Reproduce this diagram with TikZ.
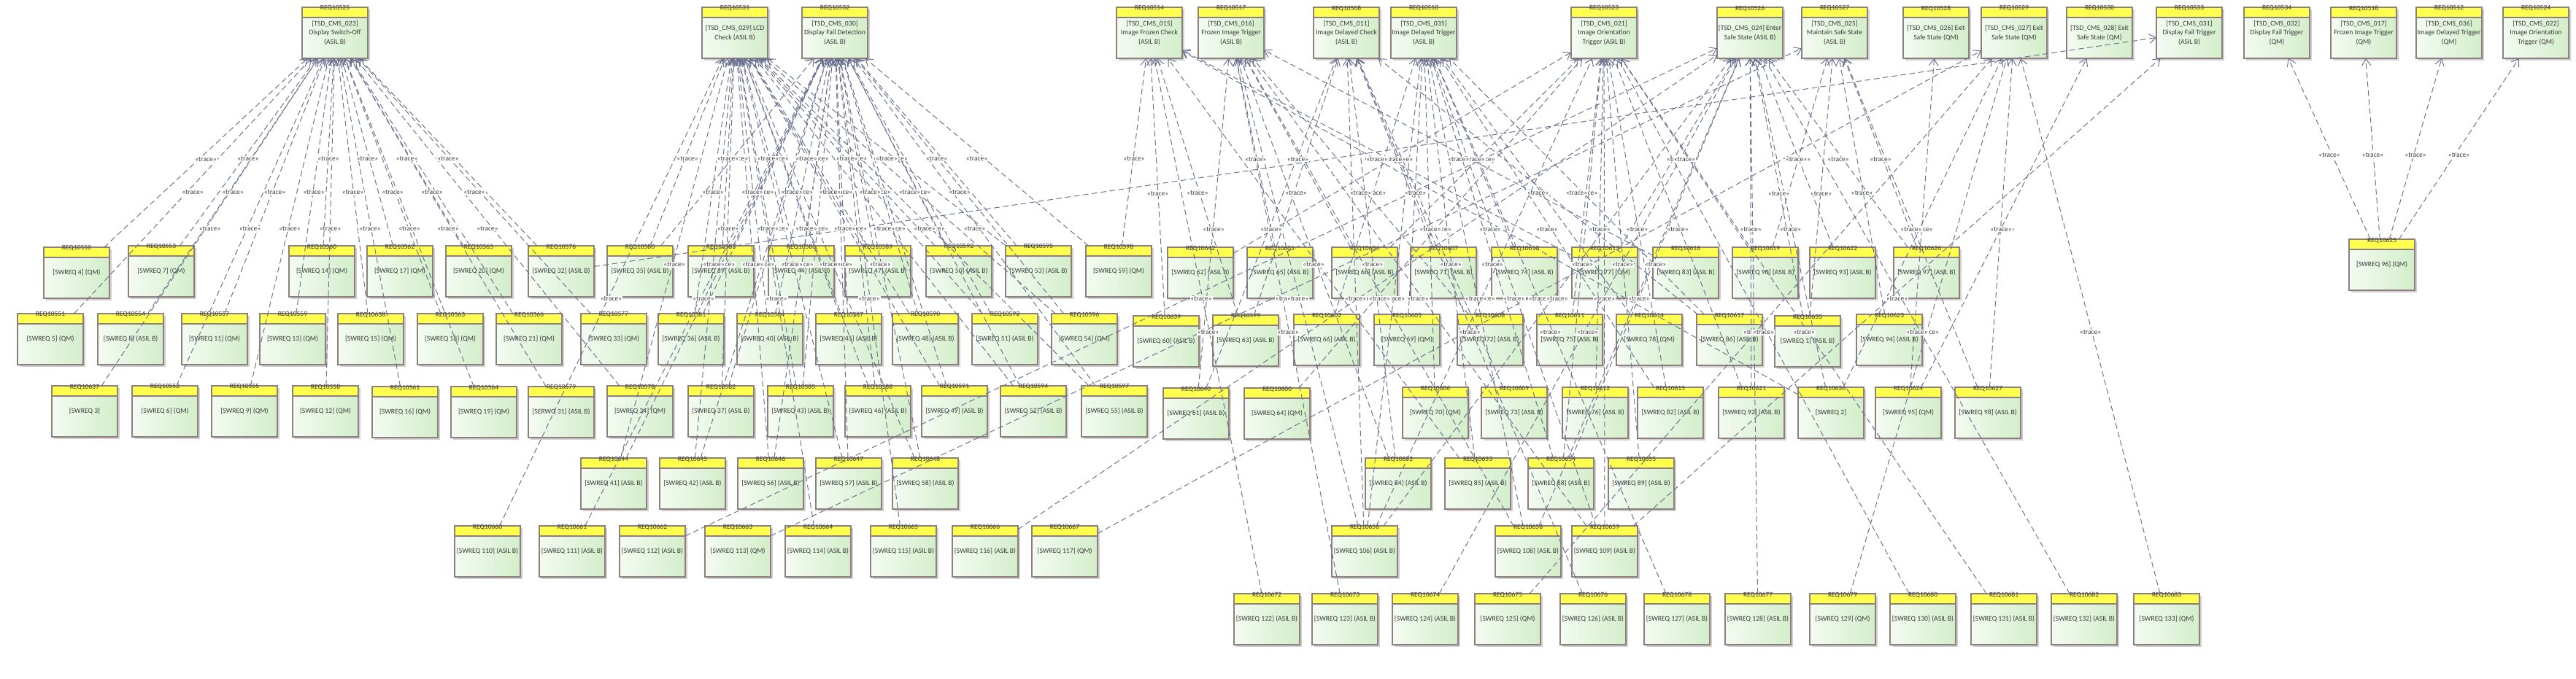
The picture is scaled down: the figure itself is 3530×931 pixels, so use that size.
\documentclass[tikz,border=0pt]{standalone}
\usepackage{fontspec}
\setmainfont{Carlito}
\usetikzlibrary{arrows.meta}
\definecolor{hdr}{HTML}{FFFF4D}
\definecolor{bodyL}{HTML}{F4FBF2}
\definecolor{bodyR}{HTML}{D3EECA}
\definecolor{bord}{HTML}{8E7E7E}
\definecolor{edgec}{HTML}{6A7190}
\definecolor{txt}{HTML}{3A3A3A}
\definecolor{shad}{HTML}{D0D0D0}
\tikzset{
  reqbox/.style={rectangle, minimum width=0.9cm, minimum height=0.7cm, inner sep=0pt, outer sep=0pt, left color=bodyL, right color=bodyR, anchor=north west},
  tracee/.style={draw=edgec, line width=0.28pt, dash pattern=on 2.2pt off 1.3pt, -{Straight Barb[length=2.6pt,width=3.6pt]}},
  tlabel/.style={fill=white, inner sep=0.25pt, font=\fontsize{2.7}{3}\selectfont, text=txt, midway, yshift=-0.09cm},
  bodytext/.style={align=center, font=\fontsize{2.75}{3.6}\selectfont, text=txt, inner sep=0pt},
  idtext/.style={font=\fontsize{2.7}{3}\selectfont, text=txt, inner sep=0pt},
}
\newcommand{\reqnode}[5]{%
  \fill[shad] ({#2+3},{#3+3}) rectangle ({#2+93},{#3+73});
  \node[reqbox] (#1) at (#2,#3) {};
  \fill[hdr] (#1.north west) rectangle ([yshift=-0.14cm]#1.north east);
  \draw[bord, line width=0.35pt] (#1.north west) rectangle (#1.south east);
  \draw[bord, line width=0.35pt] ([yshift=-0.14cm]#1.north west) -- ([yshift=-0.14cm]#1.north east);
  \node[idtext] at ([yshift=-0.015cm]#1.north) {#4};
  \node[bodytext] at (#1.center) {#5};
}
\begin{document}
\begin{tikzpicture}[x=0.01cm, y=-0.01cm]
\useasboundingbox (0,0) rectangle (3530,931);
% ---- top row
\reqnode{r10525}{414}{10}{REQ10525}{[TSD\_CMS\_023]\\Display Switch-Off\\(ASIL B)}
\reqnode{r10531}{962}{10}{REQ10531}{[TSD\_CMS\_029] LCD\\Check (ASIL B)}
\reqnode{r10532}{1099}{10}{REQ10532}{[TSD\_CMS\_030]\\Display Fail Detection\\(ASIL B)}
\reqnode{r10514}{1530}{10}{REQ10514}{[TSD\_CMS\_015]\\Image Frozen Check\\(ASIL B)}
\reqnode{r10517}{1642}{10}{REQ10517}{[TSD\_CMS\_016]\\Frozen Image Trigger\\(ASIL B)}
\reqnode{r10508}{1800}{10}{REQ10508}{[TSD\_CMS\_011]\\Image Delayed Check\\(ASIL B)}
\reqnode{r10510}{1906}{10}{REQ10510}{[TSD\_CMS\_035]\\Image Delayed Trigger\\(ASIL B)}
\reqnode{r10523}{2153}{10}{REQ10523}{[TSD\_CMS\_021]\\Image Orientation\\Trigger (ASIL B)}
\reqnode{r10526}{2353}{10}{REQ10526}{[TSD\_CMS\_024] Enter\\Safe State (ASIL B)}
\reqnode{r10527}{2469}{10}{REQ10527}{[TSD\_CMS\_025]\\Maintain Safe State\\(ASIL B)}
\reqnode{r10528}{2608}{10}{REQ10528}{[TSD\_CMS\_026] Exit\\Safe State (QM)}
\reqnode{r10529}{2715}{10}{REQ10529}{[TSD\_CMS\_027] Exit\\Safe State (QM)}
\reqnode{r10530}{2832}{10}{REQ10530}{[TSD\_CMS\_028] Exit\\Safe State (QM)}
\reqnode{r10533}{2955}{10}{REQ10533}{[TSD\_CMS\_031]\\Display Fail Trigger\\(ASIL B)}
\reqnode{r10534}{3075}{10}{REQ10534}{[TSD\_CMS\_032]\\Display Fail Trigger\\(QM)}
\reqnode{r10518}{3194}{10}{REQ10518}{[TSD\_CMS\_017]\\Frozen Image Trigger\\(QM)}
\reqnode{r10512}{3311}{10}{REQ10512}{[TSD\_CMS\_036]\\Image Delayed Trigger\\(QM)}
\reqnode{r10524}{3430}{10}{REQ10524}{[TSD\_CMS\_022]\\Image Orientation\\Trigger (QM)}
% ---- row 1
\reqnode{r10550}{60}{339}{REQ10550}{[SWREQ 4] (QM)}
\reqnode{r10553}{176}{337}{REQ10553}{[SWREQ 7] (QM)}
\reqnode{r10560}{396}{337}{REQ10560}{[SWREQ 14] (QM)}
\reqnode{r10562}{503}{337}{REQ10562}{[SWREQ 17] (QM)}
\reqnode{r10565}{611}{337}{REQ10565}{[SWREQ 20] (QM)}
\reqnode{r10576}{724}{337}{REQ10576}{[SWREQ 32] (ASIL B)}
\reqnode{r10580}{832}{337}{REQ10580}{[SWREQ 35] (ASIL B)}
\reqnode{r10583}{943}{337}{REQ10583}{[SWREQ 39] (ASIL B)}
\reqnode{r10586}{1053}{337}{REQ10586}{[SWREQ 44] (ASIL B)}
\reqnode{r10589}{1158}{337}{REQ10589}{[SWREQ 47] (ASIL B)}
\reqnode{r10592}{1269}{337}{REQ10592}{[SWREQ 50] (ASIL B)}
\reqnode{r10595}{1378}{337}{REQ10595}{[SWREQ 53] (ASIL B)}
\reqnode{r10598}{1488}{337}{REQ10598}{[SWREQ 59] (QM)}
\reqnode{r10642}{1600}{339}{REQ10642}{[SWREQ 62] (ASIL B)}
\reqnode{r10601}{1709}{339}{REQ10601}{[SWREQ 65] (ASIL B)}
\reqnode{r10604}{1825}{339}{REQ10604}{[SWREQ 68] (ASIL B)}
\reqnode{r10607}{1933}{339}{REQ10607}{[SWREQ 71] (ASIL B)}
\reqnode{r10610}{2044}{339}{REQ10610}{[SWREQ 74] (ASIL B)}
\reqnode{r10613}{2154}{339}{REQ10613}{[SWREQ 77] (QM)}
\reqnode{r10616}{2265}{339}{REQ10616}{[SWREQ 83] (ASIL B)}
\reqnode{r10619}{2374}{339}{REQ10619}{[SWREQ 90] (ASIL B)}
\reqnode{r10622}{2480}{339}{REQ10622}{[SWREQ 93] (ASIL B)}
\reqnode{r10626}{2595}{339}{REQ10626}{[SWREQ 97] (ASIL B)}
\reqnode{r10625}{3219}{328}{REQ10625}{[SWREQ 96] (QM)}
% ---- row 2
\reqnode{r10551}{24}{430}{REQ10551}{[SWREQ 5] (QM)}
\reqnode{r10554}{134}{430}{REQ10554}{[SWREQ 8] (ASIL B)}
\reqnode{r10557}{249}{430}{REQ10557}{[SWREQ 11] (QM)}
\reqnode{r10559}{356}{430}{REQ10559}{[SWREQ 13] (QM)}
\reqnode{r10638}{463}{430}{REQ10638}{[SWREQ 15] (QM)}
\reqnode{r10563}{572}{430}{REQ10563}{[SWREQ 18] (QM)}
\reqnode{r10566}{680}{430}{REQ10566}{[SWREQ 21] (QM)}
\reqnode{r10577}{796}{430}{REQ10577}{[SWREQ 33] (QM)}
\reqnode{r10581}{902}{430}{REQ10581}{[SWREQ 36] (ASIL B)}
\reqnode{r10584}{1010}{430}{REQ10584}{[SWREQ 40] (ASIL B)}
\reqnode{r10587}{1118}{430}{REQ10587}{[SWREQ 45] (ASIL B)}
\reqnode{r10590}{1223}{430}{REQ10590}{[SWREQ 48] (ASIL B)}
\reqnode{r10593}{1332}{430}{REQ10593}{[SWREQ 51] (ASIL B)}
\reqnode{r10596}{1441}{430}{REQ10596}{[SWREQ 54] (QM)}
\reqnode{r10639}{1553}{433}{REQ10639}{[SWREQ 60] (ASIL B)}
\reqnode{r10599}{1662}{432}{REQ10599}{[SWREQ 63] (ASIL B)}
\reqnode{r10602}{1773}{431}{REQ10602}{[SWREQ 66] (ASIL B)}
\reqnode{r10605}{1883}{431}{REQ10605}{[SWREQ 69] (QM)}
\reqnode{r10608}{1997}{431}{REQ10608}{[SWREQ 72] (ASIL B)}
\reqnode{r10611}{2106}{431}{REQ10611}{[SWREQ 75] (ASIL B)}
\reqnode{r10614}{2215}{431}{REQ10614}{[SWREQ 78] (QM)}
\reqnode{r10617}{2325}{431}{REQ10617}{[SWREQ 86] (ASIL B)}
\reqnode{r10635}{2432}{433}{REQ10635}{[SWREQ 1] (ASIL B)}
\reqnode{r10623}{2544}{431}{REQ10623}{[SWREQ 94] (ASIL B)}
% ---- row 3
\reqnode{r10637}{71}{529}{REQ10637}{[SWREQ 3]}
\reqnode{r10552}{181}{529}{REQ10552}{[SWREQ 6] (QM)}
\reqnode{r10555}{290}{529}{REQ10555}{[SWREQ 9] (QM)}
\reqnode{r10558}{401}{529}{REQ10558}{[SWREQ 12] (QM)}
\reqnode{r10561}{510}{530}{REQ10561}{[SWREQ 16] (QM)}
\reqnode{r10564}{618}{530}{REQ10564}{[SWREQ 19] (QM)}
\reqnode{r10579}{724}{530}{REQ10579}{[SERWQ 31] (ASIL B)}
\reqnode{r10578}{832}{529}{REQ10578}{[SWREQ 34] (QM)}
\reqnode{r10582}{943}{529}{REQ10582}{[SWREQ 37] (ASIL B)}
\reqnode{r10585}{1052}{529}{REQ10585}{[SWREQ 43] (ASIL B)}
\reqnode{r10588}{1158}{529}{REQ10588}{[SWREQ 46] (ASIL B)}
\reqnode{r10591}{1263}{529}{REQ10591}{[SWREQ 49] (ASIL B)}
\reqnode{r10594}{1371}{529}{REQ10594}{[SWREQ 52] (ASIL B)}
\reqnode{r10597}{1482}{529}{REQ10597}{[SWREQ 55] (ASIL B)}
\reqnode{r10640}{1594}{532}{REQ10640}{[SWREQ 61] (ASIL B)}
\reqnode{r10600}{1705}{532}{REQ10600}{[SWREQ 64] (QM)}
\reqnode{r10606}{1922}{531}{REQ10606}{[SWREQ 70] (QM)}
\reqnode{r10609}{2030}{531}{REQ10609}{[SWREQ 73] (ASIL B)}
\reqnode{r10612}{2141}{531}{REQ10612}{[SWREQ 76] (ASIL B)}
\reqnode{r10615}{2244}{531}{REQ10615}{[SWREQ 82] (ASIL B)}
\reqnode{r10621}{2355}{531}{REQ10621}{[SWREQ 92] (ASIL B)}
\reqnode{r10636}{2464}{531}{REQ10636}{[SWREQ 2]}
\reqnode{r10624}{2570}{531}{REQ10624}{[SWREQ 95] (QM)}
\reqnode{r10627}{2679}{531}{REQ10627}{[SWREQ 98] (ASIL B)}
% ---- row 4
\reqnode{r10644}{796}{628}{REQ10644}{[SWREQ 41] (ASIL B)}
\reqnode{r10645}{904}{628}{REQ10645}{[SWREQ 42] (ASIL B)}
\reqnode{r10646}{1011}{628}{REQ10646}{[SWREQ 56] (ASIL B)}
\reqnode{r10647}{1118}{628}{REQ10647}{[SWREQ 57] (ASIL B)}
\reqnode{r10648}{1223}{628}{REQ10648}{[SWREQ 58] (ASIL B)}
\reqnode{r10652}{1871}{628}{REQ10652}{[SWREQ 84] (ASIL B)}
\reqnode{r10653}{1980}{628}{REQ10653}{[SWREQ 85] (ASIL B)}
\reqnode{r10654}{2094}{628}{REQ10654}{[SWREQ 88] (ASIL B)}
\reqnode{r10655}{2204}{628}{REQ10655}{[SWREQ 89] (ASIL B)}
% ---- row 5
\reqnode{r10660}{623}{721}{REQ10660}{[SWREQ 110] (ASIL B)}
\reqnode{r10661}{739}{721}{REQ10661}{[SWREQ 111] (ASIL B)}
\reqnode{r10662}{849}{721}{REQ10662}{[SWREQ 112] (ASIL B)}
\reqnode{r10663}{966}{721}{REQ10663}{[SWREQ 113] (QM)}
\reqnode{r10664}{1076}{721}{REQ10664}{[SWREQ 114] (ASIL B)}
\reqnode{r10665}{1193}{721}{REQ10665}{[SWREQ 115] (ASIL B)}
\reqnode{r10666}{1305}{721}{REQ10666}{[SWREQ 116] (ASIL B)}
\reqnode{r10667}{1414}{721}{REQ10667}{[SWREQ 117] (QM)}
\reqnode{r10656}{1825}{721}{REQ10656}{[SWREQ 106] (ASIL B)}
\reqnode{r10658}{2049}{721}{REQ10658}{[SWREQ 108] (ASIL B)}
\reqnode{r10659}{2154}{721}{REQ10659}{[SWREQ 109] (ASIL B)}
% ---- row 6
\reqnode{r10672}{1691}{814}{REQ10672}{[SWREQ 122] (ASIL B)}
\reqnode{r10673}{1798}{814}{REQ10673}{[SWREQ 123] (ASIL B)}
\reqnode{r10674}{1908}{814}{REQ10674}{[SWREQ 124] (ASIL B)}
\reqnode{r10675}{2021}{814}{REQ10675}{[SWREQ 125] (QM)}
\reqnode{r10676}{2138}{814}{REQ10676}{[SWREQ 126] (ASIL B)}
\reqnode{r10678}{2253}{814}{REQ10678}{[SWREQ 127] (ASIL B)}
\reqnode{r10677}{2364}{814}{REQ10677}{[SWREQ 128] (ASIL B)}
\reqnode{r10679}{2480}{814}{REQ10679}{[SWREQ 129] (QM)}
\reqnode{r10680}{2590}{814}{REQ10680}{[SWREQ 130] (ASIL B)}
\reqnode{r10681}{2701}{814}{REQ10681}{[SWREQ 131] (ASIL B)}
\reqnode{r10682}{2811}{814}{REQ10682}{[SWREQ 132] (ASIL B)}
\reqnode{r10683}{2924}{814}{REQ10683}{[SWREQ 133] (QM)}
% ---- trace connectors
\def\edgelist{%
r10550/r10525, r10553/r10525, r10560/r10525, r10562/r10525, r10565/r10525, r10576/r10525,
r10551/r10525, r10554/r10525, r10557/r10525, r10559/r10525, r10638/r10525, r10563/r10525, r10566/r10525, r10577/r10525,
r10637/r10525, r10552/r10525, r10555/r10525, r10558/r10525, r10561/r10525, r10564/r10525, r10579/r10525, r10578/r10525,
r10576/r10533,
r10580/r10531, r10580/r10532, r10583/r10531, r10583/r10532, r10586/r10531, r10586/r10532,
r10589/r10531, r10589/r10532, r10592/r10531, r10592/r10532, r10595/r10531, r10595/r10532,
r10581/r10531, r10581/r10532, r10584/r10531, r10584/r10532, r10587/r10531, r10587/r10532,
r10590/r10531, r10590/r10532, r10593/r10531, r10593/r10532, r10596/r10531, r10596/r10532,
r10582/r10531, r10582/r10532, r10585/r10531, r10585/r10532, r10588/r10531, r10588/r10532,
r10591/r10531, r10591/r10532, r10594/r10531, r10594/r10532, r10597/r10531, r10597/r10532,
r10644/r10531, r10644/r10532, r10645/r10531, r10645/r10532, r10646/r10531, r10646/r10532,
r10647/r10531, r10647/r10532, r10648/r10531, r10648/r10532,
r10598/r10532, r10598/r10514,
r10660/r10531, r10664/r10531, r10661/r10532, r10665/r10532,
r10662/r10526, r10663/r10527, r10666/r10526, r10667/r10529,
r10642/r10523, r10601/r10517, r10604/r10517, r10604/r10523, r10607/r10508, r10610/r10510,
r10613/r10514, r10613/r10526, r10616/r10517, r10619/r10523, r10619/r10527, r10622/r10526,
r10626/r10526, r10626/r10527,
r10639/r10514, r10599/r10514, r10599/r10508, r10602/r10510, r10605/r10510, r10608/r10517,
r10611/r10523, r10614/r10510, r10617/r10510, r10617/r10508, r10635/r10526, r10635/r10527,
r10623/r10527,
r10640/r10517, r10640/r10508, r10600/r10523, r10606/r10510, r10609/r10508, r10612/r10523,
r10615/r10510, r10615/r10523, r10621/r10523, r10621/r10526, r10636/r10514, r10636/r10526,
r10636/r10529, r10624/r10530, r10624/r10528, r10627/r10527, r10627/r10529,
r10652/r10517, r10652/r10508, r10653/r10510, r10653/r10514, r10654/r10510, r10654/r10523,
r10654/r10526, r10655/r10523,
r10656/r10517, r10656/r10508, r10656/r10510, r10656/r10523, r10656/r10526,
r10658/r10526, r10658/r10517, r10658/r10510,
r10659/r10523, r10659/r10517, r10659/r10533, r10659/r10510,
r10672/r10514, r10673/r10517, r10674/r10526, r10675/r10529, r10676/r10508, r10678/r10510,
r10677/r10526, r10679/r10529, r10680/r10523, r10681/r10523, r10682/r10526, r10683/r10529,
r10625/r10534, r10625/r10518, r10625/r10512, r10625/r10524}
\foreach \a/\b in \edgelist {\draw[tracee] (\a) -- (\b);}
\foreach \a/\b in \edgelist {\path (\a) -- node[tlabel]{«trace»} (\b);}
\end{tikzpicture}
\end{document}
